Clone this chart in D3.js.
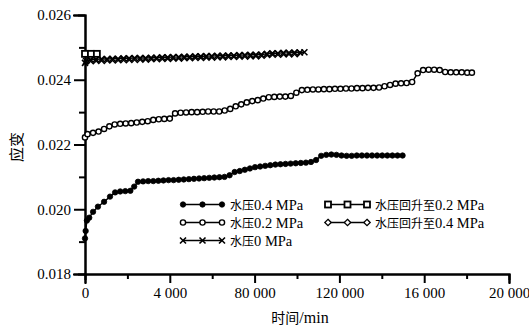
<!DOCTYPE html>
<html>
<head>
<meta charset="utf-8">
<script src="https://cdn.jsdelivr.net/npm/d3@7/dist/d3.min.js"></script>
<style>
    body { margin: 0; background: #fff; }
    svg { display: block; }
    .axis path, .axis line { stroke: #000; stroke-width: 2px; }
    .axis text { font-family: "Liberation Serif", "DejaVu Serif", serif; font-size: 15px; fill: #000; }
    .label { fill: #000; }
</style>
</head>
<body>
<div id="chart"></div>
<script>
// x tick labels as printed in the figure (sic)
var xTickValues = [0, 4000, 8000, 12000, 16000, 20000];
var xTickLabels = ["0", "4 000", "80 000", "120 000", "16 000", "20 000"];
var xMinorTicks = [2000, 6000, 10000, 14000, 18000];
var yTickValues = [0.018, 0.020, 0.022, 0.024, 0.026];
var yMinorTicks = [0.019, 0.021, 0.023, 0.025];

// [time (min), strain]
var water04 = [
    [0, 0.01910], [30, 0.01933], [90, 0.01965], [200, 0.01974], [380, 0.01992],
    [610, 0.02008], [900, 0.02023], [1180, 0.02039], [1420, 0.02052], [1660, 0.02055],
    [1900, 0.02056], [2140, 0.02057], [2320, 0.02070], [2500, 0.02085], [2740, 0.02086],
    [2980, 0.02087], [3220, 0.02087], [3460, 0.02088], [3700, 0.02089], [3940, 0.02090],
    [4180, 0.02090], [4420, 0.02091], [4660, 0.02092], [4900, 0.02093], [5140, 0.02094],
    [5380, 0.02095], [5620, 0.02096], [5860, 0.02097], [6100, 0.02098], [6340, 0.02099],
    [6580, 0.02100], [6820, 0.02105], [7060, 0.02115], [7300, 0.02118], [7540, 0.02122],
    [7780, 0.02126], [8020, 0.02130], [8260, 0.02132], [8500, 0.02134], [8740, 0.02136],
    [8980, 0.02138], [9220, 0.02139], [9460, 0.02140], [9700, 0.02141], [9940, 0.02142],
    [10180, 0.02143], [10420, 0.02144], [10660, 0.02146], [10900, 0.02152], [11140, 0.02165],
    [11380, 0.02168], [11620, 0.02169], [11860, 0.02168], [12100, 0.02166], [12340, 0.02165],
    [12580, 0.02165], [12820, 0.02166], [13060, 0.02166], [13300, 0.02166], [13540, 0.02166],
    [13780, 0.02166], [14020, 0.02166], [14260, 0.02166], [14500, 0.02166], [14740, 0.02166],
    [14980, 0.02166]
];

var water02 = [
    [0, 0.02222], [120, 0.02232], [380, 0.02236], [640, 0.02240], [900, 0.02248],
    [1150, 0.02256], [1400, 0.02262], [1660, 0.02264], [1920, 0.02265], [2180, 0.02266],
    [2440, 0.02268], [2700, 0.02270], [2960, 0.02272], [3220, 0.02276], [3480, 0.02278],
    [3740, 0.02279], [4000, 0.02280], [4250, 0.02296], [4510, 0.02298], [4770, 0.02299],
    [5030, 0.02300], [5290, 0.02300], [5550, 0.02301], [5810, 0.02302], [6070, 0.02302],
    [6330, 0.02302], [6590, 0.02305], [6850, 0.02310], [7110, 0.02318], [7370, 0.02324],
    [7630, 0.02330], [7890, 0.02334], [8150, 0.02337], [8410, 0.02342], [8670, 0.02346],
    [8930, 0.02347], [9190, 0.02348], [9450, 0.02348], [9710, 0.02350], [9970, 0.02360],
    [10230, 0.02368], [10490, 0.02369], [10750, 0.02370], [11010, 0.02370], [11270, 0.02371],
    [11530, 0.02371], [11790, 0.02372], [12050, 0.02372], [12310, 0.02373], [12570, 0.02373],
    [12830, 0.02374], [13090, 0.02374], [13350, 0.02375], [13610, 0.02375], [13870, 0.02376],
    [14130, 0.02380], [14390, 0.02384], [14650, 0.02388], [14910, 0.02389], [15170, 0.02390],
    [15430, 0.02393], [15690, 0.02420], [15950, 0.02430], [16210, 0.02431], [16470, 0.02431],
    [16730, 0.02430], [16990, 0.02424], [17250, 0.02423], [17510, 0.02423], [17770, 0.02423],
    [18030, 0.02422], [18250, 0.02422]
];

var water0 = [
    [0, 0.02452], [50, 0.02458], [260, 0.02462], [520, 0.02463], [780, 0.02464],
    [1040, 0.02464], [1300, 0.02465], [1560, 0.02465], [1820, 0.02466], [2080, 0.02466],
    [2340, 0.02467], [2600, 0.02467], [2860, 0.02467], [3120, 0.02468], [3380, 0.02468],
    [3640, 0.02469], [3900, 0.02469], [4160, 0.02470], [4420, 0.02470], [4680, 0.02471],
    [4940, 0.02471], [5200, 0.02472], [5460, 0.02472], [5720, 0.02473], [5980, 0.02473],
    [6240, 0.02474], [6500, 0.02474], [6760, 0.02475], [7020, 0.02475], [7280, 0.02476],
    [7540, 0.02476], [7800, 0.02477], [8060, 0.02477], [8320, 0.02478], [8580, 0.02480],
    [8840, 0.02482], [9100, 0.02482], [9360, 0.02483], [9620, 0.02483], [9880, 0.02484],
    [10140, 0.02484], [10350, 0.02485]
];

var rise02 = [[0, 0.02480], [280, 0.02480], [560, 0.02480]];

var rise04 = [
    [130, 0.02458], [390, 0.02459], [650, 0.02460], [910, 0.02460], [1170, 0.02461],
    [1430, 0.02461], [1690, 0.02462], [1950, 0.02462], [2210, 0.02463], [2470, 0.02463],
    [2730, 0.02464], [2990, 0.02464], [3250, 0.02465], [3510, 0.02465], [3770, 0.02466],
    [4030, 0.02466], [4290, 0.02467], [4550, 0.02467], [4810, 0.02468], [5070, 0.02468],
    [5330, 0.02469], [5590, 0.02469], [5850, 0.02470], [6110, 0.02470], [6370, 0.02471],
    [6630, 0.02471], [6890, 0.02472], [7150, 0.02472], [7410, 0.02473], [7670, 0.02473],
    [7930, 0.02474], [8190, 0.02474], [8450, 0.02476], [8710, 0.02478], [8970, 0.02479],
    [9230, 0.02479], [9490, 0.02480], [9750, 0.02480], [10010, 0.02481]
];

var width = 529, height = 329;
var serifFont = "'Liberation Serif', 'DejaVu Serif', serif";
var cjkFont = "'Noto Sans CJK SC', sans-serif";

var svg = d3.select("#chart").append("svg")
    .attr("width", width)
    .attr("height", height);

var xScale = d3.scaleLinear().domain([0, 20000]).range([85, 509]);
var yScale = d3.scaleLinear().domain([0.018, 0.026]).range([274, 15]);

// axes: minor ticks first, then major with labels
svg.append("g").attr("class", "axis")
    .attr("transform", "translate(0," + yScale.range()[0] + ")")
    .call(d3.axisBottom(xScale).tickValues(xMinorTicks).tickSize(5).tickFormat(""));
svg.append("g").attr("class", "axis")
    .attr("transform", "translate(0," + yScale.range()[0] + ")")
    .call(d3.axisBottom(xScale).tickValues(xTickValues).tickSize(9).tickPadding(4)
        .tickFormat(function (d, i) { return xTickLabels[i]; }));

svg.append("g").attr("class", "axis")
    .attr("transform", "translate(" + xScale.range()[0] + ",0)")
    .call(d3.axisLeft(yScale).tickValues(yMinorTicks).tickSize(6).tickFormat(""));
svg.append("g").attr("class", "axis")
    .attr("transform", "translate(" + xScale.range()[0] + ",0)")
    .call(d3.axisLeft(yScale).tickValues(yTickValues).tickSize(11).tickPadding(3)
        .tickFormat(d3.format(".3f")));

svg.selectAll(".axis").attr("font-family", serifFont);
svg.selectAll(".axis text").attr("font-family", serifFont).attr("font-size", 15);
svg.selectAll(".axis .domain").attr("stroke-linecap", "square");

// writes mixed CJK / latin text with different sizes
function mixedText(sel, str, latinSize, cjkSize) {
    var parts = str.match(/[\u4e00-\u9fff]+|[^\u4e00-\u9fff]+/g);
    parts.forEach(function (p) {
        var cjk = /[\u4e00-\u9fff]/.test(p);
        sel.append("tspan")
            .attr("font-family", cjk ? cjkFont : serifFont)
            .attr("font-size", cjk ? cjkSize : latinSize)
            .text(p);
    });
}

// axis titles
mixedText(svg.append("text").attr("class", "label")
    .attr("x", 300).attr("y", 323).attr("text-anchor", "middle"), "时间/min", 16, 14);
mixedText(svg.append("text").attr("class", "label")
    .attr("transform", "translate(22,147) rotate(-90)").attr("text-anchor", "middle"), "应变", 16, 15);

// marker drawing
function drawMarker(g, type, cx, cy) {
    if (type === "filled") {
        g.append("circle").attr("cx", cx).attr("cy", cy).attr("r", 2.7)
            .attr("fill", "#000").attr("stroke", "#000").attr("stroke-width", 0.8);
    } else if (type === "open") {
        g.append("circle").attr("cx", cx).attr("cy", cy).attr("r", 2.6)
            .attr("fill", "#fff").attr("stroke", "#000").attr("stroke-width", 1.4);
    } else if (type === "cross") {
        var s = 3;
        g.append("path")
            .attr("d", "M" + (cx - s) + "," + (cy - s) + "L" + (cx + s) + "," + (cy + s) +
                "M" + (cx - s) + "," + (cy + s) + "L" + (cx + s) + "," + (cy - s))
            .attr("stroke", "#000").attr("stroke-width", 1.6).attr("fill", "none");
    } else if (type === "square") {
        g.append("rect").attr("x", cx - 3).attr("y", cy - 3).attr("width", 6).attr("height", 6)
            .attr("fill", "#fff").attr("stroke", "#000").attr("stroke-width", 1.8);
    } else if (type === "diamond") {
        var d = 3.2;
        g.append("path")
            .attr("d", "M" + cx + "," + (cy - d) + "L" + (cx + d) + "," + cy + "L" + cx + "," + (cy + d) +
                "L" + (cx - d) + "," + cy + "Z")
            .attr("fill", "#fff").attr("stroke", "#000").attr("stroke-width", 1.3);
    }
}

var series = [
    {name: "水压0.4 MPa", data: water04, marker: "filled"},
    {name: "水压0.2 MPa", data: water02, marker: "open"},
    {name: "水压0 MPa", data: water0, marker: "cross"},
    {name: "水压回升至0.2 MPa", data: rise02, marker: "square"},
    {name: "水压回升至0.4 MPa", data: rise04, marker: "diamond"}
];

var line = d3.line()
    .x(function (d) { return xScale(d[0]); })
    .y(function (d) { return yScale(d[1]); });

var plot = svg.append("g").attr("class", "plot");
// draw in an order that keeps the top band readable
[0, 1, 4, 2, 3].forEach(function (k) {
    var s = series[k];
    var g = plot.append("g");
    g.append("path").datum(s.data).attr("d", line)
        .attr("fill", "none").attr("stroke", "#000").attr("stroke-width", 1.4);
    s.data.forEach(function (d) {
        drawMarker(g, s.marker, xScale(d[0]), yScale(d[1]));
    });
});

// legend: two columns, three rows
var legendPos = [
    {x: 183, y: 204.5}, {x: 183, y: 222.5}, {x: 183, y: 240.5},
    {x: 328, y: 204.5}, {x: 328, y: 222.5}
];
var legend = svg.append("g").attr("class", "legend");
series.forEach(function (s, i) {
    var p = legendPos[i];
    var g = legend.append("g");
    g.append("line").attr("x1", p.x).attr("x2", p.x + 39).attr("y1", p.y).attr("y2", p.y)
        .attr("stroke", "#000").attr("stroke-width", 1.4);
    [0, 19.5, 39].forEach(function (dx) {
        drawMarker(g, s.marker, p.x + dx, p.y);
    });
    mixedText(g.append("text").attr("class", "label")
        .attr("x", p.x + 47).attr("y", p.y + 5), s.name, 14.5, 12);
});
</script>
</body>
</html>
